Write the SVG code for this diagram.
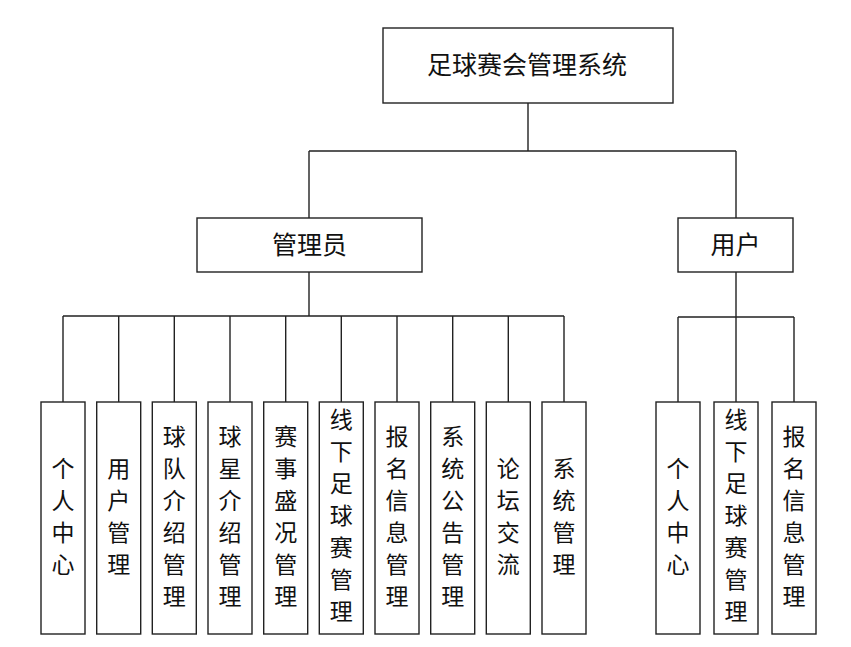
<svg xmlns="http://www.w3.org/2000/svg" width="851" height="647" viewBox="0 0 851 647">
<style>
.box{fill:#fff;stroke:#222;stroke-width:1.4}
.ln{fill:none;stroke:#222;stroke-width:1.4}
text{font-family:"Noto Sans CJK SC","Microsoft YaHei",sans-serif;font-size:23px;fill:#111;text-anchor:middle;dominant-baseline:central}
.big{font-size:25px}
</style>
<rect width="851" height="647" fill="#fff"/>
<g id="connectors" class="ln">
<path d="M528 103V151M309 151H736M309 151V218M736 151V218"/>
<path d="M309 272V316M63 316H564M63 316V402M118.7 316V402M174.3 316V402M230 316V402M285.7 316V402M341.3 316V402M397 316V402M452.7 316V402M508.3 316V402M564 316V402"/>
<path d="M736 272V317M678 317H794M678 317V402M736 317V402M794 317V402"/>
</g>
<g id="root"><rect class="box" x="383" y="28" width="290" height="75"/><text class="big" x="527" y="63">足球赛会管理系统</text></g>
<g id="admin"><rect class="box" x="197" y="218" width="225" height="54"/><text class="big" x="309.5" y="242.5">管理员</text></g>
<g id="user"><rect class="box" x="678" y="218" width="115" height="54"/><text class="big" x="735.5" y="242.5">用户</text></g>
<g id="a1"><rect class="box" x="41" y="402" width="44" height="232"/><text><tspan x="63" y="467">个</tspan><tspan x="63" y="499">人</tspan><tspan x="63" y="531">中</tspan><tspan x="63" y="563">心</tspan></text></g>
<g id="a2"><rect class="box" x="96.7" y="402" width="44" height="232"/><text><tspan x="118.7" y="467">用</tspan><tspan x="118.7" y="499">户</tspan><tspan x="118.7" y="531">管</tspan><tspan x="118.7" y="563">理</tspan></text></g>
<g id="a3"><rect class="box" x="152.3" y="402" width="44" height="232"/><text><tspan x="174.3" y="435">球</tspan><tspan x="174.3" y="467">队</tspan><tspan x="174.3" y="499">介</tspan><tspan x="174.3" y="531">绍</tspan><tspan x="174.3" y="563">管</tspan><tspan x="174.3" y="595">理</tspan></text></g>
<g id="a4"><rect class="box" x="208" y="402" width="44" height="232"/><text><tspan x="230" y="435">球</tspan><tspan x="230" y="467">星</tspan><tspan x="230" y="499">介</tspan><tspan x="230" y="531">绍</tspan><tspan x="230" y="563">管</tspan><tspan x="230" y="595">理</tspan></text></g>
<g id="a5"><rect class="box" x="263.7" y="402" width="44" height="232"/><text><tspan x="285.7" y="435">赛</tspan><tspan x="285.7" y="467">事</tspan><tspan x="285.7" y="499">盛</tspan><tspan x="285.7" y="531">况</tspan><tspan x="285.7" y="563">管</tspan><tspan x="285.7" y="595">理</tspan></text></g>
<g id="a6"><rect class="box" x="319.3" y="402" width="44" height="232"/><text><tspan x="341.3" y="418">线</tspan><tspan x="341.3" y="450">下</tspan><tspan x="341.3" y="482">足</tspan><tspan x="341.3" y="514">球</tspan><tspan x="341.3" y="546">赛</tspan><tspan x="341.3" y="578">管</tspan><tspan x="341.3" y="610">理</tspan></text></g>
<g id="a7"><rect class="box" x="375" y="402" width="44" height="232"/><text><tspan x="397" y="435">报</tspan><tspan x="397" y="467">名</tspan><tspan x="397" y="499">信</tspan><tspan x="397" y="531">息</tspan><tspan x="397" y="563">管</tspan><tspan x="397" y="595">理</tspan></text></g>
<g id="a8"><rect class="box" x="430.7" y="402" width="44" height="232"/><text><tspan x="452.7" y="435">系</tspan><tspan x="452.7" y="467">统</tspan><tspan x="452.7" y="499">公</tspan><tspan x="452.7" y="531">告</tspan><tspan x="452.7" y="563">管</tspan><tspan x="452.7" y="595">理</tspan></text></g>
<g id="a9"><rect class="box" x="486.3" y="402" width="44" height="232"/><text><tspan x="508.3" y="467">论</tspan><tspan x="508.3" y="499">坛</tspan><tspan x="508.3" y="531">交</tspan><tspan x="508.3" y="563">流</tspan></text></g>
<g id="a10"><rect class="box" x="542" y="402" width="44" height="232"/><text><tspan x="564" y="467">系</tspan><tspan x="564" y="499">统</tspan><tspan x="564" y="531">管</tspan><tspan x="564" y="563">理</tspan></text></g>
<g id="u1"><rect class="box" x="656" y="402" width="44" height="232"/><text><tspan x="678" y="467">个</tspan><tspan x="678" y="499">人</tspan><tspan x="678" y="531">中</tspan><tspan x="678" y="563">心</tspan></text></g>
<g id="u2"><rect class="box" x="714" y="402" width="44" height="232"/><text><tspan x="736" y="418">线</tspan><tspan x="736" y="450">下</tspan><tspan x="736" y="482">足</tspan><tspan x="736" y="514">球</tspan><tspan x="736" y="546">赛</tspan><tspan x="736" y="578">管</tspan><tspan x="736" y="610">理</tspan></text></g>
<g id="u3"><rect class="box" x="772" y="402" width="44" height="232"/><text><tspan x="794" y="435">报</tspan><tspan x="794" y="467">名</tspan><tspan x="794" y="499">信</tspan><tspan x="794" y="531">息</tspan><tspan x="794" y="563">管</tspan><tspan x="794" y="595">理</tspan></text></g>
</svg>
